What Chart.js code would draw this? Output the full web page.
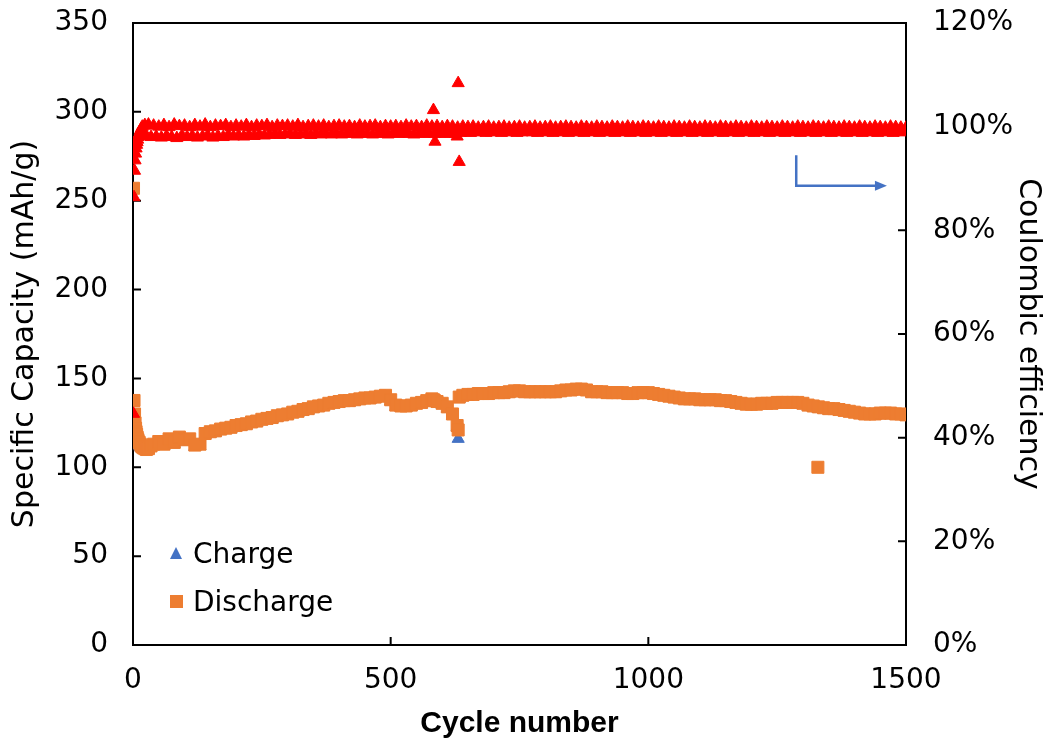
<!DOCTYPE html>
<html>
<head>
<meta charset="utf-8">
<script src="https://cdn.jsdelivr.net/npm/chart.js@4.4.1/dist/chart.umd.min.js"></script>
<style>
  body { margin: 0; background: #fff; }
  #wrap { position: relative; width: 1047px; height: 740px; }
  .lg-text { position: absolute; font-family: 'DejaVu Sans', sans-serif; font-size: 28px; line-height: 34px; color: #000; white-space: nowrap; }
  .lg-tri { position: absolute; width: 0; height: 0; border-left: 6.5px solid transparent; border-right: 6.5px solid transparent; border-bottom: 12px solid #4472C4; }
  .lg-sq { position: absolute; width: 13px; height: 13px; background: #ED7D31; }
</style>
</head>
<body>
<div id="wrap">
  <canvas id="capChart"></canvas>
  <div class="lg-tri" style="left:170px; top:547px;"></div>
  <div class="lg-text" style="left:193px; top:537px;">Charge</div>
  <div class="lg-sq" style="left:170px; top:595px;"></div>
  <div class="lg-text" style="left:193px; top:585px;">Discharge</div>
</div>
<script>
// cycle numbers for the capacity readings
const cycles = [1,2,3,4,5,6,7,8,9,10,
  12,14,16,18,20,23,26,30,35,40,
  50,60,70,80,90,100,110,120,130,140,
  150,160,170,180,190,200,210,220,230,240,
  250,260,270,280,290,300,310,320,330,340,
  350,360,370,380,390,400,410,420,430,440,
  450,460,470,480,490,500,510,520,530,540,
  550,560,570,580,583,585,590,600,610,620,
  629,631,633,640,650,660,670,680,690,700,
  710,720,730,740,750,760,770,780,790,800,
  810,820,830,840,850,860,870,880,890,900,
  910,920,930,940,950,960,970,980,990,1000,
  1010,1020,1030,1040,1050,1060,1070,1080,1090,1100,
  1110,1120,1130,1140,1150,1160,1170,1180,1190,1200,
  1210,1220,1230,1240,1250,1260,1270,1280,1290,1300,
  1310,1320,1329,1330,1340,1350,1360,1370,1380,1390,
  1400,1410,1420,1430,1440,1450,1460,1470,1480,1490,
  1500];

// discharge capacity (mAh/g)
const discharge = [257,137.6,130,125,122,120,118.5,117,116,115,
  114,113,112,111.5,111,110.5,110,110.5,112,113,
  114.5,113,116,114,117,115.5,116,112.5,113,119,
  120,120.5,121.5,122,122.5,123.5,124,124.5,125.5,126,
  127,127.5,128,129,129.5,130,131,131.5,132.5,133,
  134,134.5,135,136,136.5,137,137.5,137.5,138,138.5,
  139,139,139.5,140,140.5,138,135,134.5,134.5,135,
  136,136.5,137.5,138.5,138,137.5,137,136,134,130,
  123.5,121,139.5,140.5,141,141,141.5,141.5,141.5,142,
  142,142,142.5,143,143,142.5,142.5,142.5,142.5,142.5,
  142.5,142.5,143,143.5,143.5,144,144,143.5,142.5,142.5,
  142.5,142,142,142,142,141.5,141.5,142,142,142,
  141.5,141,140.5,140,139.5,139,138.5,138.5,138.5,138,
  138,138,138,137.5,137.5,137,136.5,136,135.5,135.5,
  135.5,136,136,136,136.5,136.5,136.5,136.5,136.5,136,
  135,134.5,100,134,133.5,133,133,132.5,132,131.5,
  131,130.5,130,130,130,130.5,130.5,130.5,130,130,
  129.5];

// charge capacity (mAh/g)
const charge = [115,118.9,119,117,115.5,115,114.5,113.5,113,112.5,
  112.2,111.6,110.9,110.6,110.3,110,109.8,110.3,111.5,112.3,
  113.5,112,115,113,116,114.5,115,111.5,112,118,
  119,119.5,120.5,121,121.5,122.5,123,123.5,124.5,125,
  126,126.5,127,128,128.5,129,130,130.5,131.5,132,
  133,133.5,134,135,135.5,136,136.5,136.5,137,137.5,
  138,138,138.5,139,139.5,137,134,133.5,133.5,134,
  135,135.5,136.5,137.5,137,136.5,136,135,133,129,
  122.5,116,138.5,139.5,140,140,140.5,140.5,140.5,141,
  141,141,141.5,142,142,141.5,141.5,141.5,141.5,141.5,
  141.5,141.5,142,142.5,142.5,143,143,142.5,141.5,141.5,
  141.5,141,141,141,141,140.5,140.5,141,141,141,
  140.5,140,139.5,139,138.5,138,137.5,137.5,137.5,137,
  137,137,137,136.5,136.5,136,135.5,135,134.5,134.5,
  134.5,135,135,135,135.5,135.5,135.5,135.5,135.5,135,
  134,133.5,133,133,132.5,132,132,131.5,131,130.5,
  130,129.5,129,129,129,129.5,129.5,129.5,129,129,
  128.5];

// cycle numbers for the efficiency readings
const ceCycles = [1,2,3,4,5,6,7,8,9,10,12,14,16,18,20,23,26,30,35,
  40,45,50,55,60,65,70,75,80,85,90,95,
  100,105,110,115,120,125,130,135,140,145,150,155,160,165,170,175,180,185,190,195,
  200,205,210,215,220,225,230,235,240,245,250,255,260,265,270,275,280,285,290,295,
  300,305,310,315,320,325,330,335,340,345,350,355,360,365,370,375,380,385,390,395,
  400,405,410,415,420,425,430,435,440,445,450,455,460,465,470,475,480,485,490,495,
  500,505,510,515,520,525,530,535,540,545,550,555,560,565,570,575,580,585,590,595,
  600,605,610,615,620,625,630,635,640,645,650,655,660,665,670,675,680,685,690,695,
  700,705,710,715,720,725,730,735,740,745,750,755,760,765,770,775,780,785,790,795,
  800,805,810,815,820,825,830,835,840,845,850,855,860,865,870,875,880,885,890,895,
  900,905,910,915,920,925,930,935,940,945,950,955,960,965,970,975,980,985,990,995,
  1000,1005,1010,1015,1020,1025,1030,1035,1040,1045,1050,1055,1060,1065,1070,1075,1080,1085,1090,1095,
  1100,1105,1110,1115,1120,1125,1130,1135,1140,1145,1150,1155,1160,1165,1170,1175,1180,1185,1190,1195,
  1200,1205,1210,1215,1220,1225,1230,1235,1240,1245,1250,1255,1260,1265,1270,1275,1280,1285,1290,1295,
  1300,1305,1310,1315,1320,1325,1330,1335,1340,1345,1350,1355,1360,1365,1370,1375,1380,1385,1390,1395,
  1400,1405,1410,1415,1420,1425,1430,1435,1440,1445,1450,1455,1460,1465,1470,1475,1480,1485,1490,1495,
  1500];

// coulombic efficiency (%)
const efficiency = [44.6,86.4,91.5,93.5,94.8,95.8,96.5,97,97.5,98,98.6,99.2,99.6,100,98.4,100.3,98.2,100.4,98.0,
  100.2,98.1,100.0,97.9,100.3,98.2,99.9,98.0,100.4,97.8,100.1,98.3,
  100.2,98.0,99.9,98.2,100.3,97.9,100.0,98.1,100.4,98.3,99.9,97.9,100.2,98.2,100.1,98.0,100.3,98.4,99.9,98.1,
  100.2,98.3,100.0,98.1,100.3,98.4,99.9,98.2,100.2,98.5,100.1,98.3,100.3,98.4,99.9,98.6,100.2,98.4,100.1,98.5,
  100.2,98.6,100.0,98.4,100.3,98.5,99.9,98.6,100.1,98.4,100.2,98.7,100.0,98.5,100.2,98.6,99.9,98.5,100.1,98.7,
  100.2,98.5,100.0,98.7,100.1,98.6,99.9,98.5,100.2,98.7,100.0,98.6,100.1,98.5,100.2,98.7,99.9,98.6,100.1,98.5,
  100.0,98.7,100.1,98.6,99.9,98.7,100.2,98.6,100.0,98.5,100.1,98.7,99.9,98.6,100.2,98.7,100.0,98.6,100.1,98.7,
  99.9,98.6,100.1,98.7,100.0,98.6,99.8,98.8,100.0,98.9,99.9,98.8,100.0,98.9,99.8,99.0,99.9,98.8,100.0,98.9,
  99.8,99.0,99.9,98.8,100.0,98.9,99.8,99.0,99.9,98.8,100.0,98.9,99.8,99.0,99.9,98.9,100.0,98.8,99.8,99.0,
  99.9,98.9,100.0,98.8,99.8,99.0,99.9,98.9,100.0,98.8,99.9,99.0,99.8,98.9,100.0,98.8,99.9,99.0,99.8,98.9,
  100.0,98.8,99.9,99.0,99.8,98.9,100.0,98.8,99.9,99.0,99.8,98.9,100.0,98.8,99.9,99.0,99.8,98.9,100.0,98.8,
  99.9,99.0,99.8,98.9,100.0,98.8,99.9,99.0,99.8,98.9,100.0,98.8,99.9,99.0,99.8,98.9,100.0,98.8,99.9,99.0,
  99.8,98.9,100.0,98.8,99.9,99.0,99.8,98.9,100.0,98.8,99.9,99.0,99.8,98.9,100.0,98.8,99.9,99.0,99.8,98.9,
  100.0,98.8,99.9,99.0,99.8,98.9,100.0,98.8,99.9,99.0,99.8,98.9,100.0,98.8,99.9,99.0,99.8,98.9,100.0,98.8,
  99.9,99.0,99.8,98.9,100.0,98.8,99.9,99.0,99.8,98.9,100.0,98.8,99.9,99.0,99.8,98.9,100.0,98.8,99.9,99.0,
  99.8,98.9,100.0,98.8,99.9,99.0,99.8,98.9,100.0,98.8,99.9,99.0,99.8,98.9,100.0,98.8,99.9,99.0,99.8,98.9,
  99.8];

// stray efficiency readings around cycles 580-635
const ceOddCycles = [583, 586, 629, 631, 633];
const ceOdd = [103.2, 97.1, 98.1, 108.4, 93.2];

// arrow pointing to the right axis (cycle, CE %)
const arrowCycles = [1287, 1463];
const arrowCE = [94.5, 88.6];

const pts = (xs, ys) => xs.map((c, i) => ({x: c, y: ys[i]}));

const tickFont = {family: 'DejaVu Sans', size: 28};

// keep the frame where the original has it: no extra room for edge labels
const noEdgePad = (s) => {
  s.paddingTop = 0; s.paddingBottom = 0; s.paddingLeft = 0; s.paddingRight = 0;
};

// inward tick marks + top frame line, like the original
const frameTicks = {
  id: 'frameTicks',
  beforeDatasetsDraw(chart) {
    const {ctx, chartArea: a, scales} = chart;
    ctx.save();
    ctx.strokeStyle = '#000';
    ctx.lineWidth = 2;
    ctx.beginPath();
    ctx.moveTo(a.left - 1, a.top);
    ctx.lineTo(a.right + 1, a.top);
    scales.x.ticks.forEach(t => {
      const px = scales.x.getPixelForValue(t.value);
      ctx.moveTo(px, a.bottom);
      ctx.lineTo(px, a.bottom - 8);
    });
    scales.y.ticks.forEach(t => {
      const py = scales.y.getPixelForValue(t.value);
      ctx.moveTo(a.left, py);
      ctx.lineTo(a.left + 8, py);
    });
    scales.y1.ticks.forEach(t => {
      const py = scales.y1.getPixelForValue(t.value);
      ctx.moveTo(a.right, py);
      ctx.lineTo(a.right - 8, py);
    });
    ctx.stroke();
    ctx.restore();
  },
  afterDatasetsDraw(chart) {
    const {ctx, scales} = chart;
    const x0 = scales.x.getPixelForValue(arrowCycles[0]);
    const x1 = scales.x.getPixelForValue(arrowCycles[1]);
    const yTop = scales.y1.getPixelForValue(arrowCE[0]);
    const yMid = scales.y1.getPixelForValue(arrowCE[1]);
    ctx.save();
    ctx.strokeStyle = '#4472C4';
    ctx.fillStyle = '#4472C4';
    ctx.lineWidth = 2.5;
    ctx.beginPath();
    ctx.moveTo(x0, yTop);
    ctx.lineTo(x0, yMid);
    ctx.lineTo(x1 - 10, yMid);
    ctx.stroke();
    ctx.beginPath();
    ctx.moveTo(x1, yMid);
    ctx.lineTo(x1 - 12, yMid - 5);
    ctx.lineTo(x1 - 12, yMid + 5);
    ctx.closePath();
    ctx.fill();
    ctx.restore();
  }
};

const redTri = {
  yAxisID: 'y1',
  pointStyle: 'triangle',
  pointRadius: 7,
  backgroundColor: '#FF0000',
  borderColor: '#FF0000',
  borderWidth: 1,
  order: 0
};

const ctx = document.getElementById('capChart').getContext('2d');
new Chart(ctx, {
  type: 'scatter',
  data: {
    datasets: [
      Object.assign({label: 'Coulombic efficiency', data: pts(ceCycles, efficiency)}, redTri),
      Object.assign({label: 'Coulombic efficiency (stray)', data: pts(ceOddCycles, ceOdd)}, redTri),
      {
        label: 'Discharge',
        data: pts(cycles, discharge),
        yAxisID: 'y',
        pointStyle: 'rect',
        pointRadius: 8.5,
        backgroundColor: '#ED7D31',
        borderColor: '#ED7D31',
        borderWidth: 1,
        order: 1
      },
      {
        label: 'Charge',
        data: pts(cycles, charge),
        yAxisID: 'y',
        pointStyle: 'triangle',
        pointRadius: 7,
        backgroundColor: '#4472C4',
        borderColor: '#4472C4',
        borderWidth: 1,
        order: 2
      }
    ]
  },
  options: {
    responsive: true,
    maintainAspectRatio: false,
    animation: false,
    layout: {padding: {top: 23, left: 0, right: 0, bottom: 0}},
    plugins: {
      legend: {display: false},
      tooltip: {enabled: false}
    },
    scales: {
      x: {
        type: 'linear',
        min: 0, max: 1500,
        ticks: {stepSize: 500, padding: 19, font: tickFont, color: '#000', maxRotation: 0, callback: v => String(v)},
        grid: {display: false, drawTicks: false},
        border: {display: true, color: '#000', width: 2},
        title: {display: true, text: 'Cycle number', color: '#000', padding: 0,
          font: {family: 'Liberation Sans', size: 30, weight: 'bold', lineHeight: 1.1}},
        afterFit(s) { s.height = 95; noEdgePad(s); }
      },
      y: {
        position: 'left',
        min: 0, max: 350,
        ticks: {stepSize: 50, padding: 25, font: tickFont, color: '#000'},
        grid: {display: false, drawTicks: false},
        border: {display: true, color: '#000', width: 2},
        title: {display: true, text: 'Specific Capacity (mAh/g)', color: '#000', padding: {top: 7, bottom: 0},
          font: {family: 'DejaVu Sans', size: 30}},
        afterFit(s) { s.width = 133; noEdgePad(s); }
      },
      y1: {
        position: 'right',
        min: 0, max: 120,
        ticks: {stepSize: 20, padding: 27, font: tickFont, color: '#000', callback: v => v + '%'},
        grid: {display: false, drawTicks: false},
        border: {display: true, color: '#000', width: 2},
        title: {display: true, text: 'Coulombic efficiency', color: '#000', padding: {top: 1, bottom: 0},
          font: {family: 'DejaVu Sans', size: 30}},
        afterFit(s) { s.width = 141; noEdgePad(s); }
      }
    }
  },
  plugins: [frameTicks]
});
</script>
</body>
</html>
